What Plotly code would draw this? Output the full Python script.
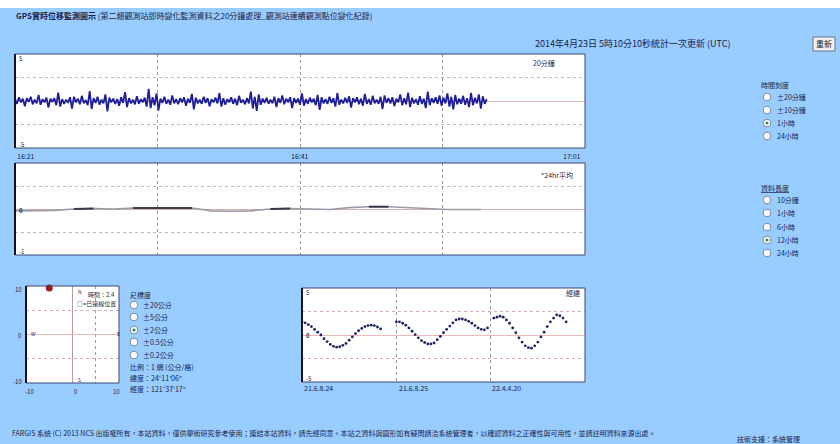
import plotly.graph_objects as go

# ---------------- data ----------------
# panel 1: real-time displacement (cm), one value per time step
disp_vals = [
    0.4,-0.6,0.8,-0.3,0.5,-1.1,0.6,-0.2,0.9,-0.7,0.3,-0.5,1.3,-0.8,0.4,-0.3,0.7,-1.4,0.5,-0.2,
    0.6,-0.9,1.8,-1.2,0.4,-0.6,0.3,-0.4,0.8,-1.6,0.9,-0.3,0.5,-0.7,1.1,-0.5,0.2,-0.9,2.1,-1.7,
    0.6,-0.4,0.9,-0.8,0.3,-0.5,1.4,-2.2,0.7,-0.3,0.5,-0.6,0.4,-1.0,0.8,-0.4,1.9,-1.3,0.6,-0.5,
    0.3,-0.7,1.0,-0.6,0.4,-0.3,0.7,-1.2,2.6,-1.5,0.8,-0.9,1.6,-2.0,0.5,-0.4,0.9,-0.6,0.3,-0.8,
    1.2,-0.5,0.4,-0.7,0.6,-0.3,0.8,-1.0,0.5,-0.4,1.5,-1.8,0.7,-0.5,0.3,-0.6,0.9,-0.4,0.6,-1.1,
    0.4,-0.3,0.7,-0.5,1.7,-1.2,0.6,-0.8,0.4,-0.3,0.8,-0.6,0.5,-0.9,1.1,-0.4,0.3,-0.7,0.6,-0.5,
    2.0,-1.6,0.9,-2.1,1.4,-0.8,0.5,-0.4,0.7,-0.6,0.3,-0.5,0.9,-1.3,0.6,-0.4,1.2,-0.7,0.5,-0.3,
    0.8,-1.5,0.6,-0.4,0.5,-0.8,1.6,-1.0,0.4,-0.6,0.7,-0.3,0.5,-0.9,1.3,-1.9,0.8,-0.5,0.4,-0.6,
    0.9,-0.4,0.6,-1.2,1.7,-0.8,0.3,-0.5,0.7,-0.4,1.0,-1.4,0.6,-0.3,0.8,-0.7,0.5,-1.0,1.5,-0.6,
    0.4,-0.8,1.1,-0.5,0.3,-0.6,0.9,-1.7,1.2,-0.4,0.6,-0.5,0.8,-1.1,0.5,-0.3,1.4,-0.9,0.6,-0.7,
    1.8,-1.3,0.7,-0.5,0.4,-0.8,1.0,-0.6,0.5,-1.5,2.0,-0.9,0.6,-0.4,0.8,-0.6,1.2,-1.0,0.7,-0.5,
    1.6,-1.2,0.9,-1.8,1.3,-0.7,0.5,-0.6,1.1,-0.8,0.6,-1.3,1.7,-0.9,0.7,-0.5,1.4,-1.6,1.0,-0.6,0.4,
]
disp_t = list(range(len(disp_vals)))

# panel 2: 24 hr average (cm)
avg_t = [0, 10, 20, 30, 40, 50, 60, 70, 80, 90, 100, 110, 120, 130, 140, 150, 160, 170, 180, 190, 200, 210, 220, 230, 237]
avg_vals = [-0.04, -0.04, -0.03, 0.0, 0.01, 0.0, 0.02, 0.02, 0.02, 0.02, -0.04, -0.05, -0.04, 0.0, 0.01, 0.0,
            -0.01, 0.03, 0.05, 0.05, 0.03, 0.0, -0.01, -0.01, -0.01]
avg_dark_vals = [None, None, None, 0.0, 0.01, None, 0.02, 0.02, 0.02, 0.02, None, None, None, 0.0, 0.01, None,
                 None, None, 0.05, 0.05, None, None, None, None, None]

# panel 3: horizontal position (cm)
pos_e = [-5]
pos_n = [9.6]

# panel 4: longer-term trace (cm), three segments
trend_t = [0,1,2,3,4,5,6,7,8,9,10,11,12,13,14,15,16,17,18,19,20,21,22,23,24,25,
           30,31,32,33,34,35,36,37,38,39,40,41,42,43,44,45,46,47,48,49,50,51,52,53,54,55,56,57,58,59,
           61,62,63,64,65,66,67,68,69,70,71,72,73,74,75,76,77,78,79,80,81,82,83,84]
trend_vals = [2.8,2.6,2.2,1.8,1.2,0.6,0.0,-0.8,-1.4,-2.0,-2.4,-2.6,-2.5,-2.2,-1.8,-1.1,-0.4,0.3,0.9,1.4,1.8,2.0,2.1,2.0,1.7,1.3,
              2.8,2.8,2.5,2.1,1.5,0.8,0.1,-0.6,-1.2,-1.6,-1.9,-1.9,-1.7,-1.0,-0.3,0.5,1.2,1.9,2.6,3.2,3.4,3.4,3.2,2.9,2.5,2.0,1.5,1.2,1.1,1.5,
              3.6,3.8,4.0,3.8,3.2,2.5,1.5,0.5,-0.6,-1.5,-2.3,-2.7,-2.8,-2.3,-1.5,-0.4,0.6,1.8,2.8,3.6,4.3,4.1,3.6,2.8]

# labels
disp_xlabels = ["16:21", "16:41", "17:01"]
trend_xlabels = ["21.6.8.24", "21.6.8.25", "22.4.4.20"]
scale_opts = ["±20公分", "±5公分", "±2公分", "±0.5公分", "±0.2公分"]
time_opts = ["±20分鐘", "±10分鐘", "1小時", "24小時"]
len_opts = ["10分鐘", "1小時", "6小時", "12小時", "24小時"]

# ---------------- figure ----------------
W, H = 840, 444
FONT = "Noto Sans CJK TC"
TXT = "#1a1f4a"


def PX(x):
    return x / W


def PY(y):
    return 1 - y / H


fig = go.Figure()
fig.add_trace(go.Scatter(x=disp_t, y=disp_vals, xaxis="x", yaxis="y", mode="lines",
                         line=dict(color="#1e1e98", width=1.8), hoverinfo="skip"))
fig.add_trace(go.Scatter(x=avg_t, y=avg_vals, xaxis="x2", yaxis="y2", mode="lines",
                         line=dict(color="#9a9aa8", width=1.6), hoverinfo="skip"))
fig.add_trace(go.Scatter(x=avg_t, y=avg_dark_vals, xaxis="x2", yaxis="y2", mode="lines",
                         line=dict(color="#3a3a48", width=2), hoverinfo="skip"))
fig.add_trace(go.Scatter(x=pos_e, y=pos_n, xaxis="x3", yaxis="y3", mode="markers", cliponaxis=False,
                         marker=dict(color="#a01818", size=7), hoverinfo="skip"))
fig.add_trace(go.Scatter(x=trend_t, y=trend_vals, xaxis="x4", yaxis="y4", mode="markers",
                         marker=dict(color="#1c2560", size=2.8), hoverinfo="skip"))

HGRID = "#cfb0b0"
VGRID = "#9a9a9a"
ZERO = "#ecb8b8"


def xax(d, rng, tv, anchor):
    return dict(domain=[PX(d[0]), PX(d[1])], range=rng, anchor=anchor, tickvals=tv,
                showticklabels=False, ticks="", showgrid=True, gridcolor=VGRID, griddash="dot",
                gridwidth=1, zeroline=False, showline=False, fixedrange=True)


def yax(d, rng, tv, anchor, zc=ZERO):
    return dict(domain=[PY(d[1]), PY(d[0])], range=rng, anchor=anchor, tickvals=tv,
                showticklabels=False, ticks="", showgrid=True, gridcolor=HGRID, griddash="dot",
                gridwidth=1, zeroline=True, zerolinecolor=zc, zerolinewidth=1, showline=False,
                fixedrange=True)


P1 = (15, 585, 54, 148)
P2 = (15, 585, 163, 255)
P3 = (26, 119, 286, 383)
P4 = (302, 585, 288, 382)

x3 = xax((P3[0], P3[1]), [-10, 10], [5], "y3")
x3["zeroline"] = True
x3["zerolinecolor"] = "#b89a9a"
x3["zerolinewidth"] = 1.2

fig.update_layout(
    width=W, height=H, autosize=False,
    margin=dict(l=0, r=0, t=0, b=0),
    paper_bgcolor="#99CCFF", plot_bgcolor="#FFFFFF",
    showlegend=False,
    font=dict(family=FONT, size=8, color=TXT),
    xaxis=xax((P1[0], P1[1]), [0, 290], [72.5, 145, 217.5], "y"),
    yaxis=yax((P1[2], P1[3]), [-10, 10], [-5, 5], "x"),
    xaxis2=xax((P2[0], P2[1]), [0, 290], [72.5, 145, 217.5], "y2"),
    yaxis2=yax((P2[2], P2[3]), [-1, 1], [-0.5, 0.5], "x2", zc="#d8b0b0"),
    xaxis3=x3,
    yaxis3=yax((P3[2], P3[3]), [-10, 10], [-5, 5], "x3"),
    xaxis4=xax((P4[0], P4[1]), [0, 90], [30, 60], "y4"),
    yaxis4=yax((P4[2], P4[3]), [-10, 10], [-5, 5], "x4"),
)

shapes = []
# white strip on top
shapes.append(dict(type="rect", xref="paper", yref="paper", x0=0, x1=1, y0=PY(8), y1=1,
                   fillcolor="#FFFFFF", line=dict(width=0), layer="below"))
# panel borders
for (l, r, t, b) in (P1, P2, P3, P4):
    shapes.append(dict(type="rect", xref="paper", yref="paper", x0=PX(l), x1=PX(r), y0=PY(b), y1=PY(t),
                       line=dict(color="#3a4674", width=1)))
    shapes.append(dict(type="line", xref="paper", yref="paper", x0=PX(l), x1=PX(l), y0=PY(b), y1=PY(t),
                       line=dict(color="#111122", width=2)))
# button
shapes.append(dict(type="rect", xref="paper", yref="paper", x0=PX(813), x1=PX(835), y0=PY(51), y1=PY(37),
                   fillcolor="#eef0f4", line=dict(color="#6a7080", width=1)))

annotations = []


def ann(x, y, text, size=8, anchor="left", color=TXT, bold=False):
    if bold:
        text = "<b>" + text + "</b>"
    annotations.append(dict(x=PX(x), y=PY(y), xref="paper", yref="paper", text=text, showarrow=False,
                            xanchor=anchor, yanchor="middle", font=dict(family=FONT, size=size, color=color)))


def radio(cx, cy, checked):
    shapes.append(dict(type="circle", xref="paper", yref="paper", x0=PX(cx - 3.8), x1=PX(cx + 3.8),
                       y0=PY(cy + 3.8), y1=PY(cy - 3.8), fillcolor="#FFFFFF",
                       line=dict(color="#7d8aa0", width=1)))
    if checked:
        shapes.append(dict(type="circle", xref="paper", yref="paper", x0=PX(cx - 1.6), x1=PX(cx + 1.6),
                           y0=PY(cy + 1.6), y1=PY(cy - 1.6), fillcolor="#3f8a4f", line=dict(width=0)))


# header
ann(14, 16, "<b>GPS實時位移監測圖示</b> (第二類觀測站即時變化監測資料之20分鐘處理_觀測站連續觀測點位變化紀錄)", size=8)
ann(533, 44, "2014年4月23日 5時10分10秒統計一次更新 (UTC)", size=9)
ann(824, 44, "重新", size=8, anchor="center", color="#222")

# panel 1 labels
ann(557, 63, "20分鐘", size=7, anchor="right")
ann(17, 58, "5", size=6)
ann(17, 144, "-5", size=6)
ann(15, 156, disp_xlabels[0], size=7)
ann(300, 156, disp_xlabels[1], size=7, anchor="center")
ann(583, 156, disp_xlabels[2], size=7, anchor="right")

# panel 2 labels
ann(575, 175, "*24hr平均", size=7, anchor="right")
ann(17, 210, "0", size=6, bold=True)
ann(17, 251, "-1", size=6)

# panel 3 labels
ann(117, 294, "時間：2.4", size=6, anchor="right")
ann(118, 303, "○=已連線位置", size=6, anchor="right")
ann(76, 291, "N", size=5)
ann(76, 379, "S", size=5)
ann(115, 333, "E", size=5)
ann(29, 333, "W", size=5)
ann(24, 289, "10", size=6, anchor="right")
ann(24, 335, "0", size=6, anchor="right")
ann(24, 381, "-10", size=6, anchor="right")
ann(29, 391, "-10", size=6, anchor="center")
ann(76, 391, "0", size=6, anchor="center")
ann(116, 391, "10", size=6, anchor="center")

# panel 3 radio group
ann(128, 295, "尺標度", size=7)
for i, (lab, yy) in enumerate(zip(scale_opts, [305, 317, 330, 342, 355])):
    radio(134, yy, i == 2)
    ann(141, yy, lab, size=7)
ann(128, 367, "比例：1 網 (公分/格)", size=7)
ann(128, 378, "緯度：24°11′06″", size=7)
ann(128, 389, "經度：121°37′17″", size=7)

# panel 4 labels
ann(582, 293, "經緯", size=7, anchor="right")
ann(304, 292, "5", size=6)
ann(304, 335, "0", size=6, bold=True)
ann(304, 378, "-5", size=6)
ann(302, 388, trend_xlabels[0], size=7)
ann(397, 388, trend_xlabels[1], size=7)
ann(490, 388, trend_xlabels[2], size=7)

# right-side radio groups
ann(759, 85, "時間刻度", size=7)
for i, (lab, yy) in enumerate(zip(time_opts, [97, 110, 123, 136])):
    radio(767, yy, i == 2)
    ann(775, yy, lab, size=7)
ann(759, 188, "<u>資料長度</u>", size=7)
for i, (lab, yy) in enumerate(zip(len_opts, [200, 213, 227, 240, 253])):
    radio(767, yy, i == 3)
    ann(775, yy, lab, size=7)

# footer
ann(10, 433, "FARGIS 系統 (C) 2013 NCS 出版權所有，本站資料，僅供學術研究參考使用；連結本站資料，請先經同意。本站之資料與圖形如有疑問請洽系統管理者，以確認資料之正確性與可用性，並請註明資料來源出處。", size=7)
ann(735, 439, "技術支援：系統管理", size=7)

fig.update_layout(shapes=shapes, annotations=annotations)
fig.write_html("out.html", config=dict(displayModeBar=False),
               post_script="document.body.style.margin='0';document.body.style.overflow='hidden';")
